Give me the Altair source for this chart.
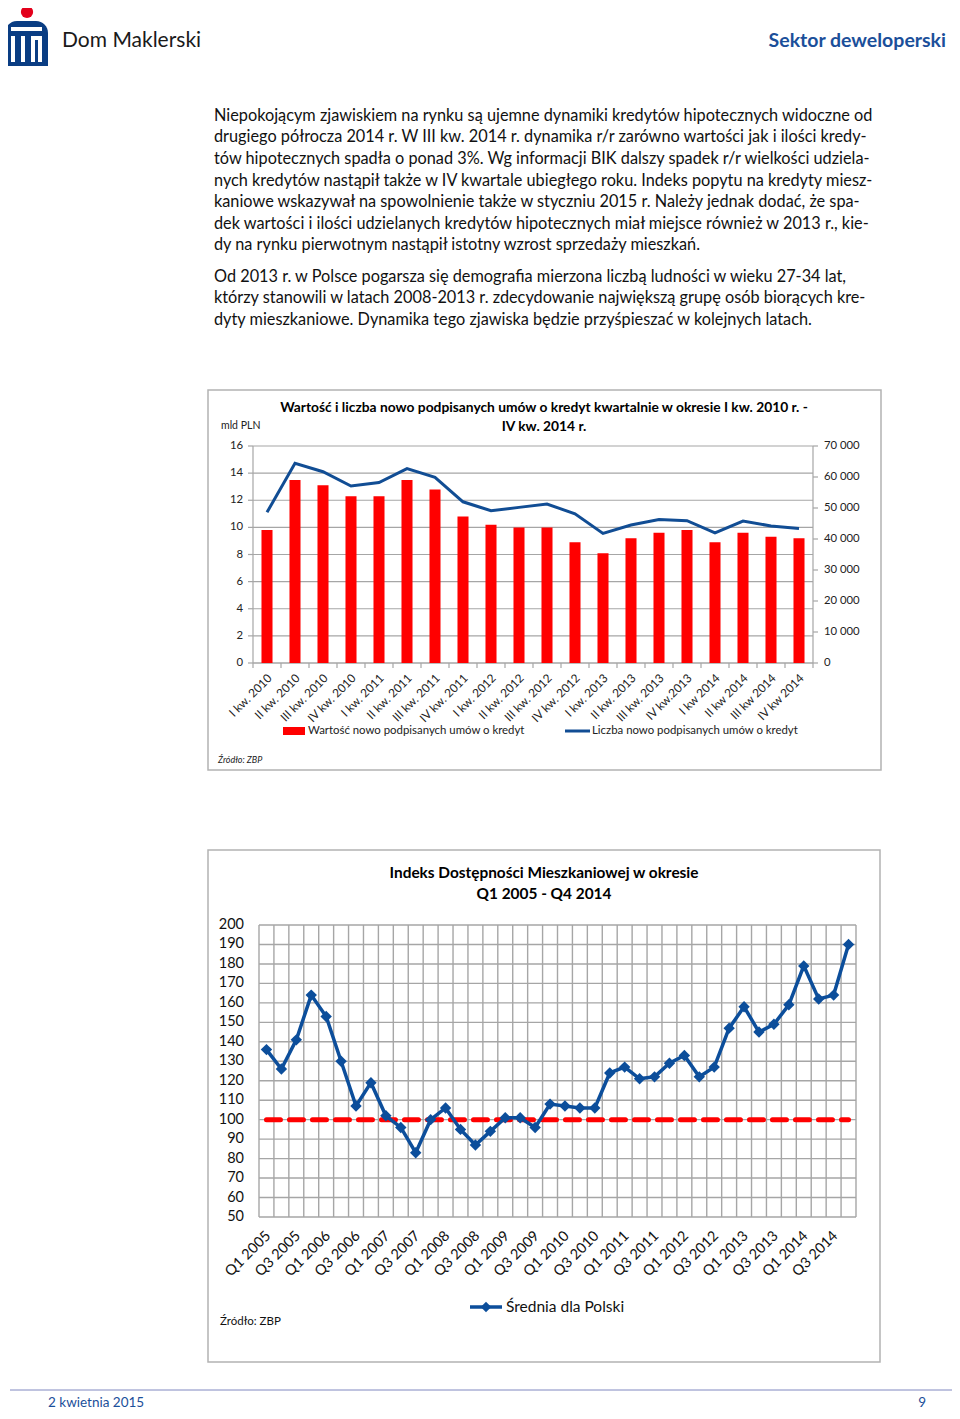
import altair as alt
import pandas as pd

FONT = "Lato"
OFF = 8  # page margin of the browser


def P(v):
    return v - OFF


# ---------------- data ----------------
para_lines = [
    "Niepokojącym zjawiskiem na rynku są ujemne dynamiki kredytów hipotecznych widoczne od",
    "drugiego półrocza 2014 r. W III kw. 2014 r. dynamika r/r zarówno wartości jak i ilości kredy-",
    "tów hipotecznych spadła o ponad 3%. Wg informacji BIK dalszy spadek r/r wielkości udziela-",
    "nych kredytów nastąpił także w IV kwartale ubiegłego roku. Indeks popytu na kredyty miesz-",
    "kaniowe wskazywał na spowolnienie także w styczniu 2015 r. Należy jednak dodać, że spa-",
    "dek wartości i ilości udzielanych kredytów hipotecznych miał miejsce również w 2013 r., kie-",
    "dy na rynku pierwotnym nastąpił istotny wzrost sprzedaży mieszkań.",
    "Od 2013 r. w Polsce pogarsza się demografia mierzona liczbą ludności w wieku 27-34 lat,",
    "którzy stanowili w latach 2008-2013 r. zdecydowanie największą grupę osób biorących kre-",
    "dyty mieszkaniowe. Dynamika tego zjawiska będzie przyśpieszać w kolejnych latach.",
]
para_y = [116, 137, 159, 181, 202, 224, 245, 277, 298, 320]

quarters_1 = [
    "I kw. 2010", "II kw. 2010", "III kw. 2010", "IV kw. 2010",
    "I kw. 2011", "II kw. 2011", "III kw. 2011", "IV kw. 2011",
    "I kw. 2012", "II kw. 2012", "III kw. 2012", "IV kw. 2012",
    "I kw. 2013", "II kw. 2013", "III kw. 2013", "IV kw.2013",
    "I kw 2014", "II kw 2014", "III kw 2014", "IV kw 2014",
]
value_bn_pln = [9.8, 13.5, 13.1, 12.3, 12.3, 13.5, 12.8, 10.8, 10.2, 10.0,
                10.0, 8.9, 8.1, 9.2, 9.6, 9.8, 8.9, 9.6, 9.3, 9.2]
contracts = [48600, 64400, 61700, 57100, 58200, 62700, 59900, 52000, 49100, 50200,
             51300, 48100, 41800, 44500, 46300, 45900, 42000, 45800, 44200, 43400]
left_ticks = [0, 2, 4, 6, 8, 10, 12, 14, 16]
right_ticks = [0, 10000, 20000, 30000, 40000, 50000, 60000, 70000]
right_tick_labels = ["0", "10 000", "20 000", "30 000", "40 000", "50 000", "60 000", "70 000"]

idm_values = [136, 126, 141, 164, 153, 130, 107, 119, 102, 96,
              83, 100, 106, 95, 87, 94, 101, 101, 96, 108,
              107, 106, 106, 124, 127, 121, 122, 129, 133, 122,
              127, 147, 158, 145, 149, 159, 179, 162, 164, 190]
idm_ticks = [50, 60, 70, 80, 90, 100, 110, 120, 130, 140, 150, 160, 170, 180, 190, 200]
idm_labels = ["Q1 2005", "Q3 2005", "Q1 2006", "Q3 2006", "Q1 2007", "Q3 2007",
              "Q1 2008", "Q3 2008", "Q1 2009", "Q3 2009", "Q1 2010", "Q3 2010",
              "Q1 2011", "Q3 2011", "Q1 2012", "Q3 2012", "Q1 2013", "Q3 2013",
              "Q1 2014", "Q3 2014"]
poland_level = 100

# ---------------- helpers ----------------
layers = []
ONE = alt.Data(values=[{"a": 1}])


def txt(s, x, y, size, color="#000000", weight="normal", align="left",
        baseline="middle", italic=False, font=FONT):
    kw = dict(align=align, baseline=baseline, fontSize=size, fontWeight=weight,
              color=color, font=font)
    if italic:
        kw["fontStyle"] = "italic"
    layers.append(
        alt.Chart(alt.Data(values=[{"t": s}])).mark_text(**kw).encode(
            x=alt.value(P(x)), y=alt.value(P(y)), text="t:N")
    )


def rect(x, x2, y, y2, fill=None, stroke=None, sw=1, **extra):
    kw = dict(extra)
    if fill is not None:
        kw["fill"] = fill
    else:
        kw["fillOpacity"] = 0
    if stroke is not None:
        kw["stroke"] = stroke
        kw["strokeWidth"] = sw
    layers.append(
        alt.Chart(ONE).mark_rect(**kw).encode(
            x=alt.value(P(x)), x2=alt.value(P(x2)),
            y=alt.value(P(y)), y2=alt.value(P(y2)))
    )


def hline(x, x2, y, color, sw=1):
    layers.append(
        alt.Chart(ONE).mark_rule(color=color, strokeWidth=sw).encode(
            x=alt.value(P(x)), x2=alt.value(P(x2)), y=alt.value(P(y)))
    )


def vline(x, y, y2, color, sw=1):
    layers.append(
        alt.Chart(ONE).mark_rule(color=color, strokeWidth=sw).encode(
            x=alt.value(P(x)), y=alt.value(P(y)), y2=alt.value(P(y2)))
    )


# ---------------- header ----------------
BLUE_LOGO = "#0a3d83"
rect(5, 48, 21, 66, fill=BLUE_LOGO, cornerRadiusTopLeft=12, cornerRadiusTopRight=12)
rect(11, 42, 27, 31, fill="#ffffff")
rect(11, 15, 36, 62, fill="#ffffff")
rect(21, 25, 36, 62, fill="#ffffff")
rect(31, 42, 36, 40, fill="#ffffff")
rect(31, 35, 40, 62, fill="#ffffff")
rect(38, 42, 40, 62, fill="#ffffff")
layers.append(
    alt.Chart(ONE).mark_circle(color="#e3001b", opacity=1).encode(
        x=alt.value(P(27)), y=alt.value(P(12)), size=alt.value(150))
)
txt("Dom Maklerski", 62, 41, 21, color="#1a1a1a")
txt("Sektor deweloperski", 946, 41, 19.5, color="#1b4f9a", weight="bold", align="right")

# ---------------- paragraphs ----------------
for line, yy in zip(para_lines, para_y):
    txt(line, 214, yy, 16.3, color="#111111")

# ---------------- chart 1 ----------------
GRID1 = "#a6a6a6"
RED = "#ff0000"
NAVY = "#114d94"
rect(208, 881, 390, 770, stroke="#b3b3b3", sw=1.5, fill="#ffffff")

x1 = alt.Scale(domain=[-0.5, 19.5], range=[P(253), P(813)])
yL = alt.Scale(domain=[0, 16], range=[P(663), P(446)])
yR = alt.Scale(domain=[0, 70000], range=[P(663), P(446)])

df_left = pd.DataFrame({"v": left_ticks})
df_right = pd.DataFrame({"v": right_ticks, "lab": right_tick_labels})
df_c1 = pd.DataFrame({"i": list(range(len(quarters_1))), "q": quarters_1,
                      "val": value_bn_pln, "cnt": contracts})
df_b1 = pd.DataFrame({"b": [k - 0.5 for k in range(len(quarters_1) + 1)]})

# gridlines
layers.append(
    alt.Chart(df_left).mark_rule(color=GRID1, strokeWidth=1.2).encode(
        y=alt.Y("v:Q", scale=yL, axis=None),
        x=alt.value(P(253)), x2=alt.value(P(813)))
)
# axis lines
vline(253, 446, 663, GRID1, 1.2)
vline(813, 446, 663, GRID1, 1.2)
hline(253, 813, 663, GRID1, 1.2)
# left ticks
layers.append(
    alt.Chart(df_left).mark_rule(color=GRID1, strokeWidth=1.2).encode(
        y=alt.Y("v:Q", scale=yL, axis=None),
        x=alt.value(P(248)), x2=alt.value(P(253)))
)
# right ticks
layers.append(
    alt.Chart(df_right).mark_rule(color=GRID1, strokeWidth=1.2).encode(
        y=alt.Y("v:Q", scale=yR, axis=None),
        x=alt.value(P(813)), x2=alt.value(P(818)))
)
# bottom ticks
layers.append(
    alt.Chart(df_b1).mark_rule(color=GRID1, strokeWidth=1.2).encode(
        x=alt.X("b:Q", scale=x1, axis=None),
        y=alt.value(P(663)), y2=alt.value(P(668)))
)
# bars
layers.append(
    alt.Chart(df_c1).transform_calculate(
        lo="datum.i - 0.197", hi="datum.i + 0.197"
    ).mark_bar(color=RED).encode(
        x=alt.X("lo:Q", scale=x1, axis=None), x2="hi:Q",
        y=alt.Y("val:Q", scale=yL, axis=None), y2=alt.datum(0))
)
# line
layers.append(
    alt.Chart(df_c1).mark_line(color=NAVY, strokeWidth=3).encode(
        x=alt.X("i:Q", scale=x1, axis=None),
        y=alt.Y("cnt:Q", scale=yR, axis=None))
)
# tick labels
layers.append(
    alt.Chart(df_left).mark_text(align="right", baseline="middle", fontSize=11.3,
                                 font=FONT, color="#222222").encode(
        y=alt.Y("v:Q", scale=yL, axis=None), x=alt.value(P(243)), text="v:N")
)
layers.append(
    alt.Chart(df_right).mark_text(align="left", baseline="middle", fontSize=11.3,
                                  font=FONT, color="#222222").encode(
        y=alt.Y("v:Q", scale=yR, axis=None), x=alt.value(P(824)), text="lab:N")
)
layers.append(
    alt.Chart(df_c1).mark_text(align="right", baseline="middle", fontSize=11.8,
                               font=FONT, color="#222222", angle=315, dx=4).encode(
        x=alt.X("i:Q", scale=x1, axis=None), y=alt.value(P(679)), text="q:N")
)
txt("Wartość i liczba nowo podpisanych umów o kredyt kwartalnie w okresie I kw. 2010 r. -",
    544, 408, 13.8, weight="bold", align="center")
txt("IV kw. 2014 r.", 544, 427, 13.8, weight="bold", align="center")
txt("mld PLN", 221, 426, 10.5, color="#222222")
rect(283, 305, 727, 735, fill=RED)
txt("Wartość nowo podpisanych umów o kredyt", 308, 731, 11.4, color="#222222")
hline(565, 590, 731, NAVY, 3)
txt("Liczba nowo podpisanych umów o kredyt", 592, 731, 11.4, color="#222222")
txt("Źródło: ZBP", 218, 760, 9, color="#222222", italic=True)

# ---------------- chart 2 ----------------
GRID2 = "#a6a6a6"
BLUE2 = "#0c4e9b"
rect(208, 880, 850, 1362, stroke="#b3b3b3", sw=1.5, fill="#ffffff")

x2s = alt.Scale(domain=[-0.5, 39.5], range=[P(259), P(856)])
y2s = alt.Scale(domain=[50, 200], range=[P(1217), P(925)])

df_t2 = pd.DataFrame({"v": idm_ticks})
df_b2 = pd.DataFrame({"b": [k - 0.5 for k in range(len(idm_values) + 1)]})
df_c2 = pd.DataFrame({"i": list(range(len(idm_values))), "v": idm_values})
df_l2 = pd.DataFrame({"i": [2 * k for k in range(len(idm_labels))], "q": idm_labels})
df_ref = pd.DataFrame({"i": [0, len(idm_values) - 1], "v": [poland_level, poland_level]})

layers.append(
    alt.Chart(df_t2).mark_rule(color=GRID2, strokeWidth=1.4).encode(
        y=alt.Y("v:Q", scale=y2s, axis=None),
        x=alt.value(P(259)), x2=alt.value(P(856)))
)
layers.append(
    alt.Chart(df_b2).mark_rule(color=GRID2, strokeWidth=1.4).encode(
        x=alt.X("b:Q", scale=x2s, axis=None),
        y=alt.value(P(925)), y2=alt.value(P(1217)))
)
layers.append(
    alt.Chart(df_ref).mark_line(color=RED, strokeWidth=5, strokeDash=[14, 9],
                                strokeCap="round").encode(
        x=alt.X("i:Q", scale=x2s, axis=None),
        y=alt.Y("v:Q", scale=y2s, axis=None))
)
layers.append(
    alt.Chart(df_c2).mark_line(color=BLUE2, strokeWidth=3.5).encode(
        x=alt.X("i:Q", scale=x2s, axis=None),
        y=alt.Y("v:Q", scale=y2s, axis=None))
)
layers.append(
    alt.Chart(df_c2).mark_point(shape="diamond", filled=True, color=BLUE2,
                                opacity=1, size=130).encode(
        x=alt.X("i:Q", scale=x2s, axis=None),
        y=alt.Y("v:Q", scale=y2s, axis=None))
)
layers.append(
    alt.Chart(df_t2).mark_text(align="right", baseline="middle", fontSize=14.5,
                               font=FONT, color="#111111").encode(
        y=alt.Y("v:Q", scale=y2s, axis=None), x=alt.value(P(244)), text="v:N")
)
layers.append(
    alt.Chart(df_l2).mark_text(align="right", baseline="middle", fontSize=14.5,
                               font=FONT, color="#111111", angle=315, dx=3).encode(
        x=alt.X("i:Q", scale=x2s, axis=None), y=alt.value(P(1236)), text="q:N")
)
txt("Indeks Dostępności Mieszkaniowej w okresie", 544, 873, 15.4, weight="bold", align="center")
txt("Q1 2005 - Q4 2014", 544, 894, 15.4, weight="bold", align="center")
hline(470, 502, 1307, BLUE2, 3.5)
layers.append(
    alt.Chart(ONE).mark_point(shape="diamond", filled=True, color=BLUE2, opacity=1,
                              size=110).encode(x=alt.value(P(486)), y=alt.value(P(1307)))
)
txt("Średnia dla Polski", 506, 1307, 15.5, color="#111111")
txt("Źródło: ZBP", 220, 1322, 11.5, color="#111111")

# ---------------- footer ----------------
hline(10, 957, 1390, "#8088c0", 1)
txt("2 kwietnia 2015", 48, 1403, 13.5, color="#1b4f9a")
txt("9", 926, 1403, 13.5, color="#1b4f9a", align="right")

chart = alt.layer(*layers).resolve_scale(
    x="independent", y="independent"
).properties(
    width=944, height=1403, padding=0,
    autosize=alt.AutoSizeParams(type="none"),
    background="#ffffff",
).configure_view(stroke=None)

chart.save("out.html", embed_options={"renderer": "svg", "actions": False})
